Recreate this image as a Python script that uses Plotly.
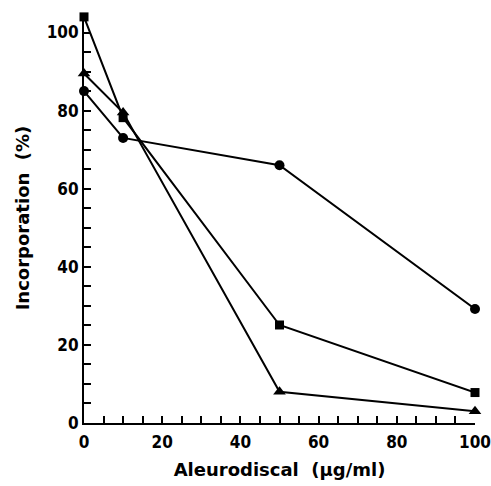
import plotly.graph_objects as go

conc = [0, 10, 50, 100]
circles = [85, 73, 66, 29.2]
squares = [104, 78.2, 25.1, 7.8]
triangles = [89.5, 79.5, 8, 3]

x_ticks = [0, 20, 40, 60, 80, 100]
y_ticks = [0, 20, 40, 60, 80, 100]

fig = go.Figure()
for vals, sym, sz in [(circles, "circle", 10), (squares, "square", 9), (triangles, "triangle-up", 11)]:
    fig.add_trace(go.Scatter(
        x=conc, y=vals, mode="lines+markers",
        line=dict(color="black", width=2),
        marker=dict(symbol=sym, size=sz, color="black"),
        cliponaxis=False, showlegend=False,
    ))

tfont = dict(family="DejaVu Sans Condensed", size=17, color="black", weight="bold")
titlefont = dict(family="DejaVu Sans", size=18, color="black", weight="bold")
fig.update_layout(
    width=491, height=486,
    margin=dict(l=84, r=16, t=13, b=63),
    paper_bgcolor="white", plot_bgcolor="white",
    font=tfont,
    xaxis=dict(
        range=[0, 100], tickvals=x_ticks, ticktext=[str(v) for v in x_ticks],
        ticks="inside", ticklen=7, tickwidth=1.5, tickcolor="black",
        minor=dict(dtick=5, tick0=0, ticks="inside", ticklen=7, tickwidth=1.5, tickcolor="black"),
        showline=True, linecolor="black", linewidth=2, showgrid=False, zeroline=False,
        automargin=False, ticklabelstandoff=3,
        title=dict(text="Aleurodiscal  (µg/ml)", font=titlefont, standoff=12),
        tickfont=tfont,
    ),
    yaxis=dict(
        range=[0, 105], tickvals=y_ticks, ticktext=[str(v) for v in y_ticks],
        ticks="inside", ticklen=7, tickwidth=1.5, tickcolor="black",
        minor=dict(dtick=5, tick0=0, ticks="inside", ticklen=7, tickwidth=1.5, tickcolor="black"),
        showline=True, linecolor="black", linewidth=2, showgrid=False, zeroline=False,
        automargin=False,
        title=dict(text="Incorporation  (%)", font=titlefont, standoff=12),
        tickfont=tfont,
    ),
)
fig.write_html(
    "out.html",
    config={"displayModeBar": False},
    post_script="document.body.style.margin='0';document.body.style.overflow='hidden';",
)
